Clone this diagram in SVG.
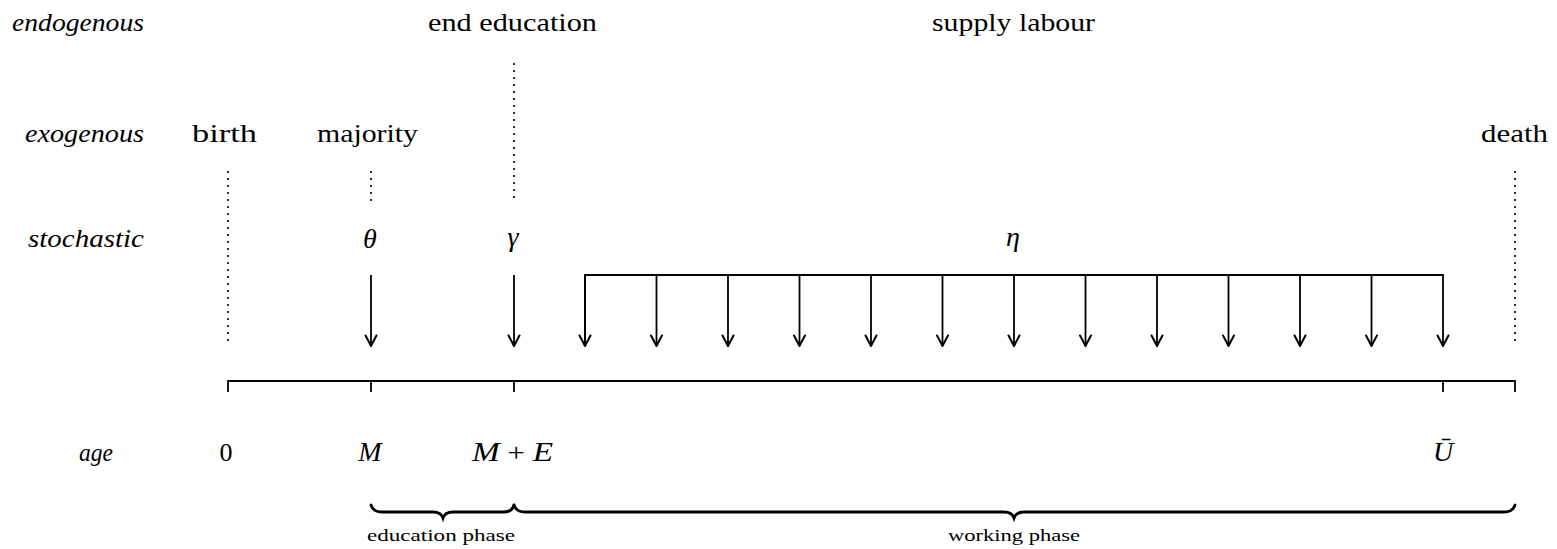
<svg xmlns="http://www.w3.org/2000/svg" width="1557" height="549" viewBox="0 0 1557 549">
<style>
text{font-family:"Liberation Serif","Times New Roman",serif;fill:#000;font-size:26px}
.it{font-style:italic}
.mt{font-style:italic;font-size:28px}
.sm{font-size:17px}
.ln{stroke:#000;stroke-width:1.8;fill:none}
.dot{stroke:#000;stroke-width:2.2;stroke-linecap:round;stroke-dasharray:0 7;fill:none}
.br{stroke:#000;stroke-width:2.8;fill:none;stroke-linecap:round}
</style>
<defs>
<marker id="ah" markerUnits="userSpaceOnUse" markerWidth="14" markerHeight="14" refX="0" refY="0" orient="auto" overflow="visible">
<path d="M -10.5,-5.5 Q -3,-1.5 0,0 Q -3,1.5 -10.5,5.5" stroke="#000" stroke-width="2" fill="none" stroke-linecap="round" stroke-linejoin="round"/>
</marker>
</defs>
<g id="row-labels">
<text class="it" x="144" y="31" text-anchor="end" textLength="132" lengthAdjust="spacingAndGlyphs">endogenous</text>
<text class="it" x="144" y="142" text-anchor="end" textLength="119" lengthAdjust="spacingAndGlyphs">exogenous</text>
<text class="it" x="144" y="247" text-anchor="end" textLength="116" lengthAdjust="spacingAndGlyphs">stochastic</text>
<text class="it" x="113" y="461" text-anchor="end" textLength="34" lengthAdjust="spacingAndGlyphs">age</text>
</g>
<g id="node-end-education"><text x="428" y="31" textLength="169" lengthAdjust="spacingAndGlyphs">end education</text></g>
<g id="node-supply-labour"><text x="932" y="31" textLength="163" lengthAdjust="spacingAndGlyphs">supply labour</text></g>
<g id="node-birth"><text x="192" y="142" textLength="65" lengthAdjust="spacingAndGlyphs">birth</text></g>
<g id="node-majority"><text x="317" y="142" textLength="101" lengthAdjust="spacingAndGlyphs">majority</text></g>
<g id="node-death"><text x="1481" y="142" textLength="67" lengthAdjust="spacingAndGlyphs">death</text></g>
<g id="node-theta"><text class="mt" x="370" y="248" text-anchor="middle">θ</text></g>
<g id="node-gamma"><text class="mt" x="513" y="246" text-anchor="middle">γ</text></g>
<g id="node-eta"><text class="mt" x="1013" y="246" text-anchor="middle">η</text></g>
<g id="node-age-0"><text x="226" y="461" text-anchor="middle">0</text></g>
<g id="node-age-M"><text class="mt" x="370" y="461" text-anchor="middle">M</text></g>
<g id="node-age-ME"><text x="472" y="461" textLength="81" lengthAdjust="spacingAndGlyphs"><tspan class="mt">M</tspan> + <tspan class="mt">E</tspan></text></g>
<g id="node-age-U"><text class="mt" x="1443" y="461" text-anchor="middle">Ū</text></g>
<g id="node-education-phase"><text class="sm" x="367" y="541" textLength="148" lengthAdjust="spacingAndGlyphs">education phase</text></g>
<g id="node-working-phase"><text class="sm" x="948" y="541" textLength="132" lengthAdjust="spacingAndGlyphs">working phase</text></g>
<g id="connectors">
<path class="dot" d="M228,172 V346"/>
<path class="dot" d="M371,172 V203"/>
<path class="dot" d="M514,64 V203"/>
<path class="dot" d="M1515,172 V346"/>
<path class="ln" d="M371,275 V346" marker-end="url(#ah)"/>
<path class="ln" d="M514,275 V346" marker-end="url(#ah)"/>
<path class="ln" d="M585,346 V275 H1443 V346" marker-end="url(#ah)"/>
<path class="ln" d="M656.5,275 V346" marker-end="url(#ah)"/>
<path class="ln" d="M728,275 V346" marker-end="url(#ah)"/>
<path class="ln" d="M799.5,275 V346" marker-end="url(#ah)"/>
<path class="ln" d="M871,275 V346" marker-end="url(#ah)"/>
<path class="ln" d="M942.5,275 V346" marker-end="url(#ah)"/>
<path class="ln" d="M1014,275 V346" marker-end="url(#ah)"/>
<path class="ln" d="M1085.5,275 V346" marker-end="url(#ah)"/>
<path class="ln" d="M1157,275 V346" marker-end="url(#ah)"/>
<path class="ln" d="M1228.5,275 V346" marker-end="url(#ah)"/>
<path class="ln" d="M1300,275 V346" marker-end="url(#ah)"/>
<path class="ln" d="M1371.5,275 V346" marker-end="url(#ah)"/>
<path class="ln" d="M585,275 V346" marker-end="url(#ah)"/>
<path class="ln" d="M228,392 V381 H1515 V392 M371,381 V392 M514,381 V392 M1443,381 V392"/>
<path class="br" d="M371,505 Q373,512 382,512 H433 Q441,512 443,518 Q445,512 453,512 H504 Q512,512 514,505"/>
<path class="br" d="M514,505 Q516,512 525,512 H1004 Q1012,512 1014,518 Q1016,512 1024,512 H1504 Q1513,512 1515,505"/>
</g>
</svg>
